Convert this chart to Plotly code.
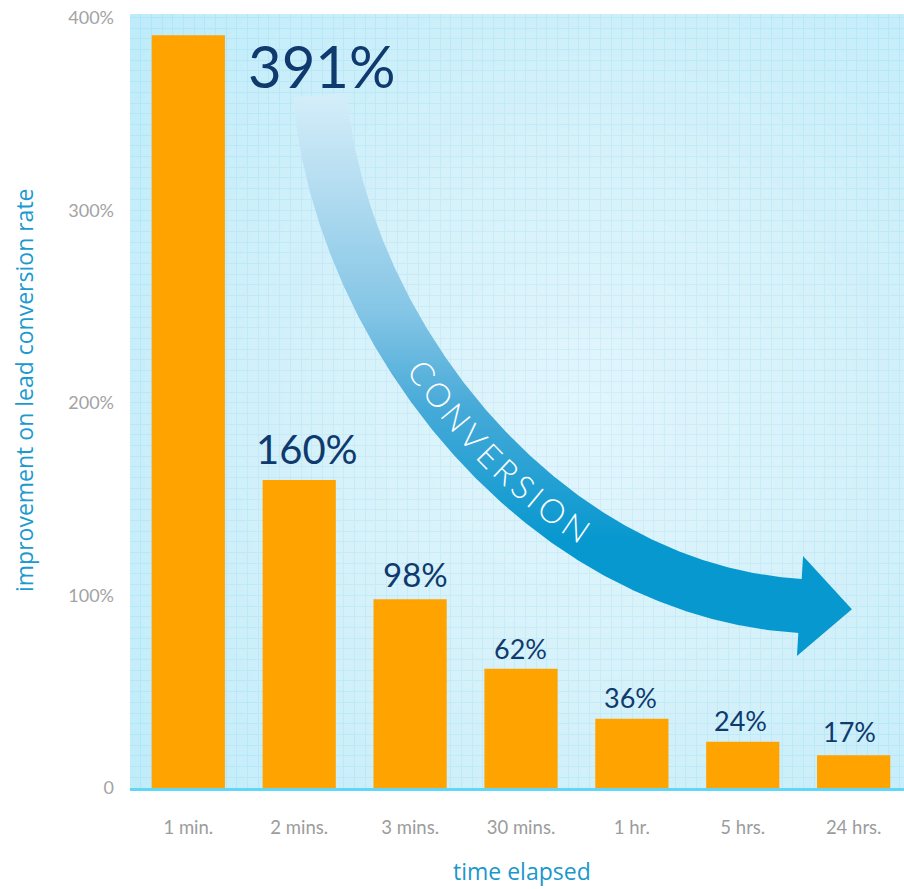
import numpy as np
import plotly.graph_objects as go

# ---------------- data ----------------
categories = ["1 min.", "2 mins.", "3 mins.", "30 mins.", "1 hr.", "5 hrs.", "24 hrs."]
values = [391, 160, 98, 62, 36, 24, 17]
value_labels = ["391%", "160%", "98%", "62%", "36%", "24%", "17%"]
y_tick_vals = [0, 100, 200, 300, 400]
y_tick_text = ["0", "100%", "200%", "300%", "400%"]
arrow_word = "CONVERSION"

# ---------------- styling ----------------
W, H = 904, 889              # figure size (page body margin removed by post_script)
L, T = 130, 14               # plot-area left / top in pixels
PLOT_R, PLOT_B = 904, 788    # plot-area right / bottom in pixels
X_RANGE = [-0.526, 6.454]
Y_RANGE = [0, 402.1]
FONT = "Lato, 'Open Sans', sans-serif"
TITLE_FONT = "'Open Sans', Lato, sans-serif"
label_sizes = [58, 40, 33, 27, 27, 27, 27]
label_xshift = [133, 8, 5, 0, -1, -2, -4]
label_yshift = [-30, 31, 25, 20.5, 21.7, 21.3, 23.3]

plot_w = PLOT_R - L
plot_h = PLOT_B - T

fig = go.Figure()

# background radial gradient (decorative) as smooth heatmap beneath bars
gx = np.linspace(X_RANGE[0], X_RANGE[1], 40)
gy = np.linspace(Y_RANGE[0], Y_RANGE[1], 40)
px = L + (gx - X_RANGE[0]) / (X_RANGE[1] - X_RANGE[0]) * plot_w
py = PLOT_B - (gy - Y_RANGE[0]) / (Y_RANGE[1] - Y_RANGE[0]) * plot_h
PX, PY = np.meshgrid(px, py)
dist = np.sqrt((PX - 580) ** 2 + ((PY - 420) / 1.05) ** 2)
dist = dist / dist.max()
fig.add_trace(go.Heatmap(
    x=gx, y=gy, z=dist, zsmooth="best", showscale=False, hoverinfo="skip",
    colorscale=[[0, "#eaf8fd"], [0.45, "#d9f3fb"], [1, "#b9ebfb"]],
    opacity=0.72,
))

# bars
fig.add_trace(go.Bar(
    x=list(range(len(categories))), y=values, width=0.66,
    marker=dict(color="#ffa300", line=dict(width=0)),
    hoverinfo="x+y", showlegend=False,
))

# ---------------- curved arrow (decorative, pixel-space overlay) ----------------
P0 = np.array([320.0, 95.0]); P1 = np.array([340.0, 330.0])
P2 = np.array([540.0, 590.0]); P3 = np.array([800.0, 606.0])
t = np.linspace(0, 1, 400)[:, None]
Bz = (1 - t) ** 3 * P0 + 3 * (1 - t) ** 2 * t * P1 + 3 * (1 - t) * t ** 2 * P2 + t ** 3 * P3
dB = 3 * (1 - t) ** 2 * (P1 - P0) + 6 * (1 - t) * t * (P2 - P1) + 3 * t ** 2 * (P3 - P2)
tan = dB / np.linalg.norm(dB, axis=1, keepdims=True)
nrm = np.column_stack([tan[:, 1], -tan[:, 0]])
half = 27
upper = Bz + half * nrm
lower = Bz - half * nrm
te, ne = tan[-1], nrm[-1]
head_top = P3 + 50 * ne
head_tip = P3 + 52 * te
head_bot = P3 - 50 * ne
poly = np.vstack([upper, head_top, head_tip, head_bot, lower[::-1], upper[:1]])
fig.add_trace(go.Scatter(
    x=poly[:, 0], y=poly[:, 1], xaxis="x2", yaxis="y2", mode="lines",
    line=dict(width=0, color="rgba(0,0,0,0)"), fill="toself",
    fillgradient=dict(type="vertical", start=95, stop=540,
                      colorscale=[[0, "#d4eef9"], [0.2, "#b5ddf1"], [0.48, "#86c6e6"],
                                  [0.7, "#47aad8"], [1, "#0798cf"]]),
    hoverinfo="skip", showlegend=False,
))

# letters along the arrow, spaced by approximate glyph advances
letter_em = {"C": 0.66, "O": 0.78, "N": 0.74, "V": 0.64, "E": 0.56,
             "R": 0.60, "S": 0.52, "I": 0.26}
LSIZE = 33
TRACK = 0.12
seg = np.linalg.norm(np.diff(Bz, axis=0), axis=1)
s = np.concatenate([[0], np.cumsum(seg)])
tt = t[:, 0]
pos = np.interp(0.40, tt, s) - letter_em[arrow_word[0]] * LSIZE / 2
annotations = []
for ch in arrow_word:
    w = letter_em.get(ch, 0.6) * LSIZE
    si = pos + w / 2
    pos += w + TRACK * LSIZE
    ti = np.interp(si, s, tt)
    xi = np.interp(ti, tt, Bz[:, 0]); yi = np.interp(ti, tt, Bz[:, 1])
    dxi = np.interp(ti, tt, dB[:, 0]); dyi = np.interp(ti, tt, dB[:, 1])
    ang = np.degrees(np.arctan2(dyi, dxi))
    annotations.append(dict(
        x=xi, y=yi, xref="x2", yref="y2", text=ch, showarrow=False,
        textangle=ang, xanchor="center", yanchor="middle",
        font=dict(family=FONT, size=LSIZE, color="white", weight=300),
    ))

# value labels
for i, lab in enumerate(value_labels):
    annotations.append(dict(
        x=i, y=values[i], xref="x", yref="y", text=lab, showarrow=False,
        xanchor="center", yanchor="middle", xshift=label_xshift[i], yshift=label_yshift[i],
        font=dict(family=FONT, size=label_sizes[i], color="#0f3a6e"),
    ))

# axis titles
annotations.append(dict(
    x=(522 - L) / plot_w, y=(PLOT_B - 871) / plot_h, xref="paper", yref="paper",
    text="time elapsed", showarrow=False, xanchor="center", yanchor="middle",
    font=dict(family=TITLE_FONT, size=23, color="#1b97cc"),
))
annotations.append(dict(
    x=(24 - L) / plot_w, y=(PLOT_B - 390) / plot_h, xref="paper", yref="paper",
    text="improvement on lead conversion rate", showarrow=False, textangle=-90,
    xanchor="center", yanchor="middle",
    font=dict(family=TITLE_FONT, size=23, color="#1b9ad0"),
))

fig.update_layout(
    width=W, height=H,
    margin=dict(l=L, r=W - PLOT_R, t=T, b=H - PLOT_B, pad=0),
    paper_bgcolor="white", plot_bgcolor="#cdeefa",
    showlegend=False,
    annotations=annotations,
    xaxis=dict(
        range=X_RANGE, tickmode="array", tickvals=list(range(len(categories))),
        ticktext=categories, showgrid=False, zeroline=False,
        showline=True, linecolor="#5fd7f6", linewidth=3,
        ticks="", ticklabelstandoff=21,
        tickfont=dict(family=FONT, size=18.5, color="#9c9c9c"),
        minor=dict(tickmode="linear", tick0=X_RANGE[0], dtick=0.0964, showgrid=True,
                   gridcolor="#8fd9f0", gridwidth=1, ticks=""),
        fixedrange=True,
    ),
    yaxis=dict(
        range=Y_RANGE, tickmode="array", tickvals=y_tick_vals, ticktext=y_tick_text,
        showgrid=False, zeroline=False, showline=False, ticks="",
        ticklabelstandoff=15, ticklabeloverflow="allow",
        tickfont=dict(family=FONT, size=18, color="#a3a3a3"),
        minor=dict(tickmode="linear", tick0=0, dtick=5.56, showgrid=True,
                   gridcolor="#8fd9f0", gridwidth=1, ticks=""),
        fixedrange=True,
    ),
    xaxis2=dict(overlaying="x", range=[L, PLOT_R], visible=False, anchor="y2", fixedrange=True),
    yaxis2=dict(overlaying="y", range=[PLOT_B, T], visible=False, anchor="x2", fixedrange=True),
)

fig.write_html(
    "out.html",
    config={"displayModeBar": False},
    post_script="document.body.style.margin='0';document.body.style.overflow='hidden';",
)
